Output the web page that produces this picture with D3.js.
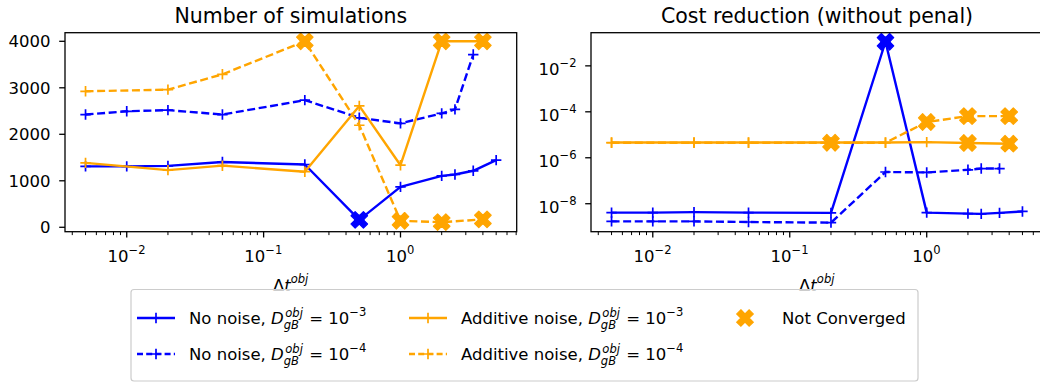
<!DOCTYPE html>
<html><head><meta charset="utf-8">
<script src="https://cdn.jsdelivr.net/npm/d3@7"></script>
<style>
body{margin:0;background:#fff}
svg{display:block}
text{font-family:"DejaVu Sans",sans-serif;white-space:pre;fill:#000}
</style>
</head><body>
<svg id="c" width="1040" height="386"></svg>
<script>
// ---------- data ----------
const xNoNoise3 = [0.005, 0.01, 0.02, 0.05, 0.2, 0.5, 1, 2, 2.5, 3.4, 5];
const xNoNoise4 = [0.005, 0.01, 0.02, 0.05, 0.2, 0.5, 1, 2, 2.5, 3.4];
const xAdd3     = [0.005, 0.02, 0.05, 0.2, 0.5, 1, 2, 4];
const xAdd4     = [0.005, 0.02, 0.05, 0.2, 0.5, 1, 2, 4];

const simsNoNoise3 = [1310, 1310, 1320, 1405, 1350, 160, 870, 1105, 1135, 1215, 1445];
const simsNoNoise4 = [2425, 2495, 2520, 2425, 2735, 2355, 2235, 2450, 2535, 3715];
const simsAdd3     = [1385, 1230, 1325, 1195, 2610, 1335, 4000, 4000];
const simsAdd4     = [2925, 2960, 3290, 4000, 2195, 140, 110, 170];

const costNoNoise3 = [4.1e-9, 4.1e-9, 4.3e-9, 4.1e-9, 4.0e-9, 0.112, 4.1e-9, 3.7e-9, 3.6e-9, 4.0e-9, 4.6e-9];
const costNoNoise4 = [1.7e-9, 1.7e-9, 1.7e-9, 1.6e-9, 1.5e-9, 2.4e-7, 2.3e-7, 3.0e-7, 3.4e-7, 3.4e-7];
const costAdd3     = [4.6e-6, 4.6e-6, 4.6e-6, 4.6e-6, 4.6e-6, 4.8e-6, 4.4e-6, 4.1e-6];
const costAdd4     = [4.5e-6, 4.5e-6, 4.5e-6, 4.5e-6, 4.5e-6, 3.6e-5, 6.5e-5, 6.5e-5];

// not converged flags (1 = not converged)
const ncNoNoise3 = [0, 0, 0, 0, 0, 1, 0, 0, 0, 0, 0];
const ncNoNoise4 = [0, 0, 0, 0, 0, 0, 0, 0, 0, 0];
const ncAdd3     = [0, 0, 0, 0, 0, 0, 1, 1];
const ncAdd4     = [0, 0, 0, 1, 0, 1, 1, 1];

const seriesNames = ["No noise", "No noise", "Additive noise", "Additive noise"];
const seriesExp = ["−3", "−4", "−3", "−4"];
const titles = ["Number of simulations", "Cost reduction (without penal)"];
const xTickLabels = [["10", "−2"], ["10", "−1"], ["10", "0"]];
const yTickLabelsRight = [["10", "−2"], ["10", "−4"], ["10", "−6"], ["10", "−8"]];
const yTicksLeft = [0, 1000, 2000, 3000, 4000];
const notConvLabel = "Not Converged";

// ---------- setup ----------
const svg = d3.select("#c");
const FS = 16.5;
const BLUE = "#0000ff", ORANGE = "#ffa500";
const yTop = 32.7, yBot = 231.7;
const LW = 2.4;
const DASH = "8,3.6";
const panels = [{x0: 65, x1: 516.7}, {x0: 591, x1: 1043}];

const series = [
  {x: xNoNoise3, sims: simsNoNoise3, cost: costNoNoise3, nc: ncNoNoise3, color: BLUE, dash: null},
  {x: xNoNoise4, sims: simsNoNoise4, cost: costNoNoise4, nc: ncNoNoise4, color: BLUE, dash: DASH},
  {x: xAdd3, sims: simsAdd3, cost: costAdd3, nc: ncAdd3, color: ORANGE, dash: null},
  {x: xAdd4, sims: simsAdd4, cost: costAdd4, nc: ncAdd4, color: ORANGE, dash: DASH}
];

function richText(g, x, y, runs, anchor, size) {
  size = size || FS;
  const grp = g.append("g");
  let cx = 0;
  runs.forEach(r => {
    if (r.stack) {
      const s = size * 0.7;
      const a = grp.append("text").attr("x", cx).attr("y", 4.5).style("font-size", s + "px")
        .style("font-style", "italic").text(r.stack[0]);
      const b = grp.append("text").attr("x", cx + 1.5).attr("y", -7.5).style("font-size", s + "px")
        .style("font-style", "italic").text(r.stack[1]);
      cx += Math.max(a.node().getComputedTextLength(), b.node().getComputedTextLength() + 1.5) + 1;
    } else {
      const s = r.sup ? size * 0.7 : size;
      const t = grp.append("text").attr("x", cx).attr("y", r.sup ? -8 : 0)
        .style("font-size", s + "px").style("font-style", r.it ? "italic" : "normal").text(r.t);
      cx += t.node().getComputedTextLength() + (r.sup ? 0.5 : 0);
    }
  });
  let ox = x;
  if (anchor === "middle") ox = x - cx / 2; else if (anchor === "end") ox = x - cx;
  grp.attr("transform", `translate(${ox},${y})`);
  return grp;
}

// filled X marker (matplotlib 'X')
const Xpts = [[0.25,0],[0.5,0.25],[0.75,0],[1,0.25],[0.75,0.5],[1,0.75],[0.75,1],[0.5,0.75],[0.25,1],[0,0.75],[0.25,0.5],[0,0.25]];
function xMarker(s) { return "M" + Xpts.map(p => [(p[0]-0.5)*s, (p[1]-0.5)*s].join(",")).join("L") + "Z"; }
const plusPath = "M-5.2,0H5.2M0,-5.2V5.2";
const XS = 16.5;

// x domain from data with 5% log margin
const allX = [].concat(xNoNoise3, xNoNoise4, xAdd3, xAdd4);
const lx0 = Math.log10(d3.min(allX)), lx1 = Math.log10(d3.max(allX));
const lpad = (lx1 - lx0) * 0.05;
const xDom = [10 ** (lx0 - lpad), 10 ** (lx1 + lpad)];

// right y domain from data with 5% log margin
const allCost = [].concat(costNoNoise3, costNoNoise4, costAdd3, costAdd4);
const ly0 = Math.log10(d3.min(allCost)), ly1 = Math.log10(d3.max(allCost));
const lypad = (ly1 - ly0) * 0.05;

panels.forEach((p, pi) => {
  const g = svg.append("g");
  const x = d3.scaleLog().domain(xDom).range([p.x0, p.x1]);
  const y = pi === 0
    ? d3.scaleLinear().domain([-95, 4185]).range([yBot, yTop])
    : d3.scaleLog().domain([10 ** (ly0 - lypad), 10 ** (ly1 + lypad)]).range([yBot, yTop]);

  // x ticks (major + minor)
  const decs = [-3, -2, -1, 0];
  const minor = [];
  decs.forEach(d => { for (let k = 2; k <= 9; k++) { const v = k * 10 ** d; if (v > xDom[0] && v < xDom[1]) minor.push(v); } });
  const major = [0.01, 0.1, 1];
  g.selectAll(".mnx").data(minor).enter().append("line")
    .attr("x1", d => x(d)).attr("x2", d => x(d)).attr("y1", yBot).attr("y2", yBot + 3.4)
    .attr("stroke", "#000").attr("stroke-width", 1);
  g.selectAll(".mjx").data(major).enter().append("line")
    .attr("x1", d => x(d)).attr("x2", d => x(d)).attr("y1", yBot).attr("y2", yBot + 5.8)
    .attr("stroke", "#000").attr("stroke-width", 1.3);
  major.forEach((v, i) => richText(g, x(v), 261.5, [{t: xTickLabels[i][0]}, {t: xTickLabels[i][1], sup: true}], "middle"));

  // y ticks
  if (pi === 0) {
    yTicksLeft.forEach(v => {
      g.append("line").attr("x1", p.x0 - 5.8).attr("x2", p.x0).attr("y1", y(v)).attr("y2", y(v))
        .attr("stroke", "#000").attr("stroke-width", 1.3);
      g.append("text").attr("x", p.x0 - 14.5).attr("y", y(v) + 6).attr("text-anchor", "end")
        .style("font-size", FS + "px").text(String(v));
    });
  } else {
    [1e-2, 1e-4, 1e-6, 1e-8].forEach((v, i) => {
      g.append("line").attr("x1", p.x0 - 5.8).attr("x2", p.x0).attr("y1", y(v)).attr("y2", y(v))
        .attr("stroke", "#000").attr("stroke-width", 1.3);
      richText(g, p.x0 - 14, y(v) + 9, [{t: yTickLabelsRight[i][0]}, {t: yTickLabelsRight[i][1], sup: true}], "end");
    });
  }

  // series
  const key = pi === 0 ? "sims" : "cost";
  series.forEach(s => {
    const pts = s.x.map((xv, i) => [x(xv), y(s[key][i])]);
    g.append("path").attr("d", d3.line()(pts)).attr("fill", "none")
      .attr("stroke", s.color).attr("stroke-width", LW).attr("stroke-linejoin", "round")
      .attr("stroke-dasharray", s.dash);
    g.selectAll(null).data(pts).enter().append("path")
      .attr("transform", d => `translate(${d[0]},${d[1]})`).attr("d", plusPath)
      .attr("stroke", s.color).attr("stroke-width", 1.7).attr("fill", "none");
  });
  series.forEach(s => {
    const pts = s.x.map((xv, i) => [x(xv), y(s[key][i]), s.nc[i]]).filter(d => d[2]);
    g.selectAll(null).data(pts).enter().append("path")
      .attr("transform", d => `translate(${d[0]},${d[1]})`).attr("d", xMarker(XS))
      .attr("fill", s.color).attr("stroke", s.color).attr("stroke-width", 1.2).attr("stroke-linejoin", "round");
  });

  // frame
  g.append("rect").attr("x", p.x0).attr("y", yTop).attr("width", p.x1 - p.x0).attr("height", yBot - yTop)
    .attr("fill", "none").attr("stroke", "#000").attr("stroke-width", 1.3);

  // title
  g.append("text").attr("x", (p.x0 + p.x1) / 2).attr("y", 23).attr("text-anchor", "middle")
    .style("font-size", "20.5px").text(titles[pi]);
  // x label
  richText(g, (p.x0 + p.x1) / 2, 291, [{t: "Δ"}, {t: "t", it: true}, {t: "obj", sup: true, it: true}], "middle");
});

// ---------- legend ----------
const lg = svg.append("g");
lg.append("rect").attr("x", 131).attr("y", 289.5).attr("width", 787).attr("height", 91.5).attr("rx", 3)
  .attr("fill", "#fff").attr("fill-opacity", 0.8).attr("stroke", "#cccccc").attr("stroke-width", 1.2);
const legPos = [[137, 318], [137, 354], [409, 318], [409, 354]];
series.forEach((s, i) => {
  const [lx, ly] = legPos[i];
  lg.append("line").attr("x1", lx).attr("x2", lx + 38).attr("y1", ly).attr("y2", ly)
    .attr("stroke", s.color).attr("stroke-width", LW).attr("stroke-dasharray", s.dash ? "6,3.2" : null);
  lg.append("path").attr("transform", `translate(${lx + 19},${ly})`).attr("d", plusPath)
    .attr("stroke", s.color).attr("stroke-width", 1.7);
  richText(lg, lx + 52, ly + 6, [
    {t: seriesNames[i] + ", "}, {t: "D", it: true}, {stack: ["gB", "obj"]},
    {t: " = 10"}, {t: seriesExp[i], sup: true}
  ], "start");
});
lg.append("path").attr("transform", "translate(745,318)").attr("d", xMarker(XS))
  .attr("fill", ORANGE).attr("stroke", ORANGE).attr("stroke-width", 1.2);
lg.append("text").attr("x", 782).attr("y", 324).style("font-size", FS + "px").text(notConvLabel);
</script>
</body></html>
